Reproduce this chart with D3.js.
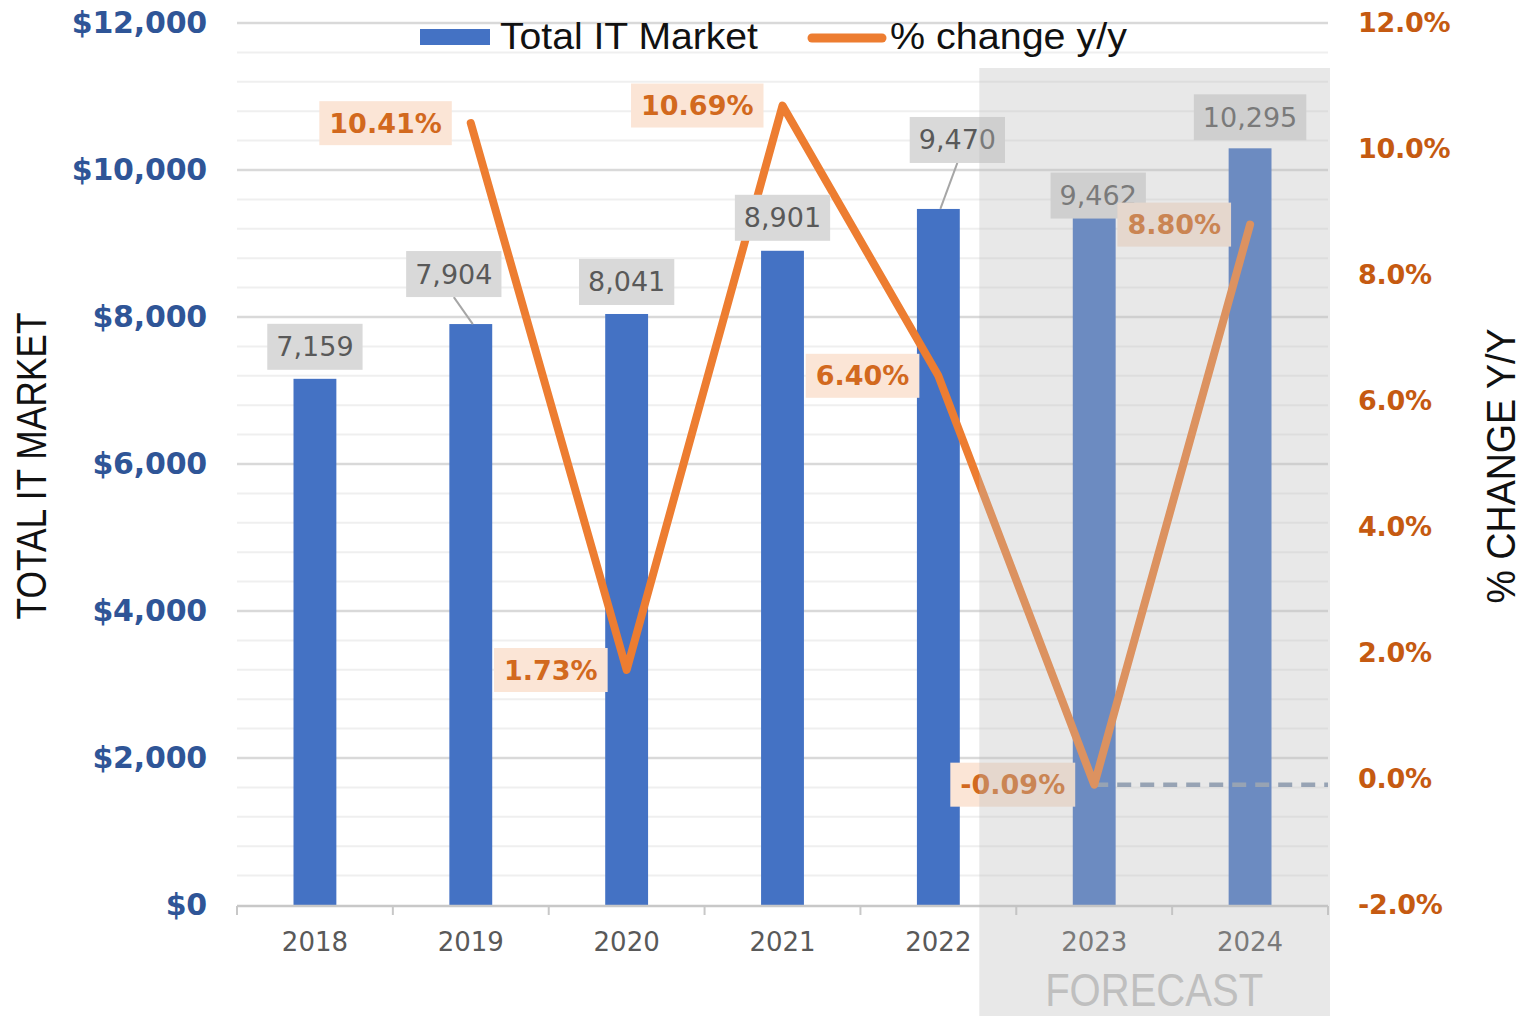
<!DOCTYPE html>
<html>
<head>
<meta charset="utf-8">
<style>
  body { margin: 0; background: #fff; }
  svg { display: block; }
</style>
</head>
<body>
<svg class="chart"></svg>

<script src="https://d3js.org/d3.v7.min.js"></script>
<script>
// data
years = ["2018", "2019", "2020", "2021", "2022", "2023", "2024"]
market = [7159, 7904, 8041, 8901, 9470, 9462, 10295]
change = [null, 10.41, 1.73, 10.69, 6.40, -0.09, 8.80]
forecastYears = ["2023", "2024"]
leftTicks = [0, 2000, 4000, 6000, 8000, 10000, 12000]
rightTicks = [-2, 0, 2, 4, 6, 8, 10, 12]

// label placement (pixel offsets from the mark)
barLabelOffset = [[0, -32], [-17, -50], [0, -32], [0, -33], [19, -69], [4, -14], [0, -31]]
leaderLines = [false, true, false, false, true, false, false]

width = 1530
height = 1016
margin = ({top: 23, right: 202, bottom: 111, left: 237})

blue = "#4472c4"
orange = "#ed7d31"

// plain hyphen minus, like the original
locale = d3.formatLocale({decimal: ".", thousands: ",", grouping: [3], currency: ["$", ""], minus: "-"})
fmt = locale.format(",")
pct1 = locale.format(".1f")
pct2 = locale.format(".2f")

x = d3.scaleBand()
    .domain(years)
    .range([margin.left, width - margin.right])

yL = d3.scaleLinear()
    .domain([0, 12000])
    .range([height - margin.bottom, margin.top])

yR = d3.scaleLinear()
    .domain([-2, 12])
    .range([height - margin.bottom, margin.top])

barW = x.bandwidth() * 0.275
cx = d => x(d) + x.bandwidth() / 2

const svg = d3.select("svg")
    .attr("width", width)
    .attr("height", height)
    .attr("viewBox", [0, 0, width, height]);

// gridlines: minor every 400, major every 2000
svg.append("g")
    .selectAll("line")
    .data(d3.range(400, 12001, 400).filter(v => v % 2000 != 0))
    .join("line")
      .attr("x1", margin.left).attr("x2", width - margin.right)
      .attr("y1", d => yL(d)).attr("y2", d => yL(d))
      .attr("stroke", "#efefef").attr("stroke-width", 2);

svg.append("g")
    .selectAll("line")
    .data(leftTicks.filter(v => v > 0))
    .join("line")
      .attr("x1", margin.left).attr("x2", width - margin.right)
      .attr("y1", d => yL(d)).attr("y2", d => yL(d))
      .attr("stroke", "#d9d9d9").attr("stroke-width", 2.5);

// bars
svg.append("g")
    .attr("fill", blue)
  .selectAll("rect")
  .data(years)
  .join("rect")
    .attr("x", d => cx(d) - barW / 2)
    .attr("y", (d, i) => yL(market[i]))
    .attr("width", barW)
    .attr("height", (d, i) => yL(0) - yL(market[i]));

// x axis line + band edge ticks
const axisY = yL(0) + 1
svg.append("line")
    .attr("x1", margin.left).attr("x2", width - margin.right)
    .attr("y1", axisY).attr("y2", axisY)
    .attr("stroke", "#c8c8c8").attr("stroke-width", 2.5);

svg.append("g")
    .selectAll("line")
    .data(years.concat(["end"]))
    .join("line")
      .attr("x1", (d, i) => i < years.length ? x(d) : x(years[years.length - 1]) + x.step())
      .attr("x2", (d, i) => i < years.length ? x(d) : x(years[years.length - 1]) + x.step())
      .attr("y1", axisY).attr("y2", axisY + 9)
      .attr("stroke", "#c8c8c8").attr("stroke-width", 2);

svg.append("g")
    .attr("transform", `translate(0,${axisY})`)
    .call(d3.axisBottom(x).tickSize(0).tickPadding(27))
    .call(g => g.select(".domain").remove())
    .call(g => g.selectAll("text")
        .attr("fill", "#595959")
        .attr("font-family", "DejaVu Sans")
        .attr("font-size", 26));

// dashed reference from the 2023 point onwards
const last = change.length - 2
svg.append("line")
    .attr("x1", cx(years[last]))
    .attr("x2", width - margin.right)
    .attr("y1", yR(change[last])).attr("y2", yR(change[last]))
    .attr("stroke", "#8497b0")
    .attr("stroke-width", 4.5)
    .attr("stroke-dasharray", "14,9");

// % change line
const pts = years.map((d, i) => ({year: d, v: change[i]})).filter(d => d.v !== null)
svg.append("path")
    .datum(pts)
    .attr("fill", "none")
    .attr("stroke", orange)
    .attr("stroke-width", 8)
    .attr("stroke-linejoin", "round")
    .attr("stroke-linecap", "round")
    .attr("d", d3.line().x(d => cx(d.year)).y(d => yR(d.v)));

// gray value labels
const barLabels = svg.append("g")
years.forEach((d, i) => {
  const bx = cx(d), by = yL(market[i])
  const lx = bx + barLabelOffset[i][0], ly = by + barLabelOffset[i][1]
  const g = barLabels.append("g")
  const t = g.append("text")
      .attr("x", lx).attr("y", ly)
      .attr("text-anchor", "middle")
      .attr("dominant-baseline", "central")
      .attr("font-family", "DejaVu Sans")
      .attr("font-size", 27)
      .attr("fill", "#595959")
      .text(fmt(market[i]))
  const w = t.node().getComputedTextLength() + 18
  g.insert("rect", "text")
      .attr("x", lx - w / 2).attr("y", ly - 23)
      .attr("width", w).attr("height", 46)
      .attr("fill", "#d9d9d9")
  if (leaderLines[i]) {
    g.insert("line", "rect")
        .attr("x1", lx).attr("y1", ly + 23)
        .attr("x2", bx + 2).attr("y2", by)
        .attr("stroke", "#a6a6a6").attr("stroke-width", 2)
  }
})

// orange % labels, to the left of each point
const pctLabels = svg.append("g")
pts.forEach(d => {
  const px = cx(d.year), py = yR(d.v)
  const g = pctLabels.append("g")
  const t = g.append("text")
      .attr("y", py)
      .attr("dominant-baseline", "central")
      .attr("text-anchor", "middle")
      .attr("font-family", "DejaVu Sans")
      .attr("font-weight", "bold")
      .attr("font-size", 27)
      .attr("fill", "#d2691e")
      .text(pct2(d.v) + "%")
  const w = t.node().getComputedTextLength() + 20
  const right = px - 19
  t.attr("x", right - w / 2)
  g.insert("rect", "text")
      .attr("x", right - w).attr("y", py - 22)
      .attr("width", w).attr("height", 44)
      .attr("fill", "#fbe5d6")
})

// forecast shading over everything in the plot
svg.append("rect")
    .attr("x", x(forecastYears[0]) - 37)
    .attr("y", 68)
    .attr("width", width - margin.right + 2 - (x(forecastYears[0]) - 37))
    .attr("height", height - 68)
    .attr("fill", "#bdbdbd")
    .attr("fill-opacity", 0.34);

svg.append("text")
    .attr("x", (x(forecastYears[0]) + x(forecastYears[1]) + x.step()) / 2 - 18)
    .attr("y", 1006)
    .attr("text-anchor", "middle")
    .attr("font-family", "Liberation Sans")
    .attr("font-size", 46)
    .attr("textLength", 218)
    .attr("lengthAdjust", "spacingAndGlyphs")
    .attr("fill", "#bfbfbf")
    .text("FORECAST");

// left axis
svg.append("g")
    .attr("transform", `translate(${margin.left},0)`)
    .call(d3.axisLeft(yL).tickValues(leftTicks).tickSize(0).tickPadding(30)
        .tickFormat(d => "$" + fmt(d)))
    .call(g => g.select(".domain").remove())
    .call(g => g.selectAll("text")
        .attr("fill", "#2f5597")
        .attr("font-family", "DejaVu Sans")
        .attr("font-weight", "bold")
        .attr("font-size", 30)
        .attr("letter-spacing", -0.2));

// right axis
svg.append("g")
    .attr("transform", `translate(${width - margin.right},0)`)
    .call(d3.axisRight(yR).tickValues(rightTicks).tickSize(0).tickPadding(30)
        .tickFormat(d => pct1(d) + "%"))
    .call(g => g.select(".domain").remove())
    .call(g => g.selectAll("text")
        .attr("fill", "#c55a11")
        .attr("font-family", "DejaVu Sans")
        .attr("font-weight", "bold")
        .attr("font-size", 27)
        .attr("letter-spacing", -0.3));

// axis titles
const midY = (yL(0) + yL(12000)) / 2 + 2
svg.append("text")
    .attr("transform", `translate(46,${midY}) rotate(-90)`)
    .attr("text-anchor", "middle")
    .attr("font-family", "Liberation Sans")
    .attr("font-size", 42)
    .attr("textLength", 307)
    .attr("lengthAdjust", "spacingAndGlyphs")
    .attr("fill", "#111")
    .text("TOTAL IT MARKET");

svg.append("text")
    .attr("transform", `translate(1515,${midY}) rotate(-90)`)
    .attr("text-anchor", "middle")
    .attr("font-family", "Liberation Sans")
    .attr("font-size", 40)
    .attr("textLength", 275)
    .attr("lengthAdjust", "spacingAndGlyphs")
    .attr("fill", "#111")
    .text("% CHANGE Y/Y");

// legend
const legend = svg.append("g")
legend.append("rect")
    .attr("x", 420).attr("y", 29).attr("width", 70).attr("height", 16)
    .attr("fill", blue);
legend.append("text")
    .attr("x", 500).attr("y", 49)
    .attr("font-family", "Liberation Sans")
    .attr("font-size", 37)
    .attr("textLength", 258)
    .attr("lengthAdjust", "spacingAndGlyphs")
    .attr("fill", "#111")
    .text("Total IT Market");
legend.append("line")
    .attr("x1", 812).attr("x2", 882).attr("y1", 38).attr("y2", 38)
    .attr("stroke", orange).attr("stroke-width", 9).attr("stroke-linecap", "round");
legend.append("text")
    .attr("x", 890).attr("y", 49)
    .attr("font-family", "Liberation Sans")
    .attr("font-size", 37)
    .attr("textLength", 237)
    .attr("lengthAdjust", "spacingAndGlyphs")
    .attr("fill", "#111")
    .text("% change y/y");
</script>
</body>
</html>
